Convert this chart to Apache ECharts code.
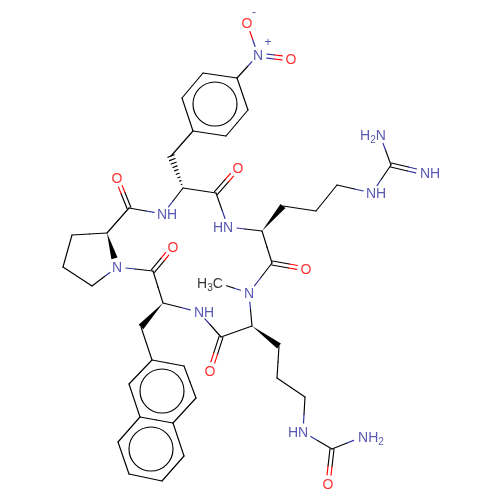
<!DOCTYPE html>
<html><head><meta charset="utf-8">
<style>html,body{margin:0;padding:0;background:#fff}#c{width:500px;height:500px}</style>
<script src="https://cdn.jsdelivr.net/npm/echarts@6/dist/echarts.min.js"></script>
</head><body><div id="c"></div>
<script>
const atomX=[258,247,291,237,203,182,193,226,248,171,183,216,238,163,129,117,228,262,283,316,337,372,391,425,380,272,306,249,218,252,221,210,279,277,305,303,332,362,328,199,163,153,173,117,107,72,63,92,141,152,184,196,173,140,129,184,162,129,118];
const atomY=[55,23,59,78,73,98,131,136,110,156,188,193,168,214,208,178,227,231,206,211,185,193,165,173,135,263,269,293,283,326,337,371,346,378,397,432,449,437,484,312,303,271,247,267,233,235,267,286,327,360,366,398,423,417,384,456,481,474,442];
const atomKind=['N','O','O','C','C','C','C','C','C','C','C','C','O','N','C','O','N','C','C','C','C','N','C','N','N','C','O','N','M','C','C','O','C','C','C','N','C','N','O','N','C','C','O','N','C','C','C','C','C','C','C','C','C','C','C','C','C','C','C'];
const singleBonds=[[0,1],[0,3],[3,4],[4,5],[5,6],[6,7],[7,8],[8,3],[6,9],[10,11],[10,13],[13,14],[14,44],[11,16],[16,17],[18,19],[19,20],[20,21],[21,22],[22,24],[17,25],[25,27],[27,28],[27,29],[29,30],[30,39],[39,40],[40,41],[41,43],[43,47],[47,46],[46,45],[45,44],[32,33],[33,34],[34,35],[35,36],[36,37],[48,49],[49,50],[50,51],[51,52],[52,53],[53,54],[54,49],[52,55],[55,56],[56,57],[57,58],[58,53]];
const doubleBonds=[[0,2],[11,12],[14,15],[22,23],[25,26],[30,31],[36,38],[41,42]];
const wedgeBonds=[[44,43],[17,18],[40,48],[29,32]];
const hashBonds=[[10,9]];
const ringX=[215,162,151];
const ringY=[104,391,449];
const labelText=['N','O','O','NH','O','O','HN','NH','NH','H{s|2}N','O','N','H{s|3}C','NH','O','HN','NH{s|2}','O','O','N'];
const labelX=[258,247,291,167,117,238,223,376,430,373,306,249,210,204,210,298,371,328,173,117];
const labelY=[56,24,60,215,179,169,228,194,174,136,270,294,284,313,372,433,438,485,248,268];
const labelKind=['N','O','O','N','O','O','N','N','N','N','O','N','C','N','O','N','N','O','O','N'];
const chargeText=['-','+'];
const chargeX=[254,268];
const chargeY=[13,43];
const chargeKind=['N','N'];

const COL={N:'#2f2f9f',O:'#ff0000',C:'#000000',M:'#000000'};
const TRIM={N:9,O:9,C:0,M:9};
const LW=1.15, DOUBLE=2.0;
function ends(a,b,api){
  const p=api.coord([atomX[a],atomY[a]]),q=api.coord([atomX[b],atomY[b]]);
  const dx=q[0]-p[0],dy=q[1]-p[1],L=Math.hypot(dx,dy),ux=dx/L,uy=dy/L;
  const ta=TRIM[atomKind[a]],tb=TRIM[atomKind[b]];
  return {p,q,ux,uy,a:[p[0]+ux*ta,p[1]+uy*ta],b:[q[0]-ux*tb,q[1]-uy*tb],m:[(p[0]+q[0])/2,(p[1]+q[1])/2]};
}
function seg(A,B,c){return {type:'line',shape:{x1:A[0],y1:A[1],x2:B[0],y2:B[1]},style:{stroke:c,lineWidth:LW,lineCap:'round',fill:null}};}
function coloured(e,a,b,ox,oy){
  const A=[e.a[0]+ox,e.a[1]+oy],B=[e.b[0]+ox,e.b[1]+oy],M=[e.m[0]+ox,e.m[1]+oy];
  return [seg(A,M,COL[atomKind[a]]),seg(M,B,COL[atomKind[b]])];
}
const bondRender=(gap)=>(params,api)=>{
  const a=api.value(0),b=api.value(1),e=ends(a,b,api);
  let ch=[];
  if(gap===0) ch=coloured(e,a,b,0,0);
  else{const nx=-e.uy*gap,ny=e.ux*gap;
    ch=coloured(e,a,b,nx,ny).concat(coloured(e,a,b,-nx,-ny));}
  return {type:'group',children:ch};
};
const wedgeRender=(params,api)=>{
  const a=api.value(0),b=api.value(1),e=ends(a,b,api),w=3.2,nx=-e.uy*w,ny=e.ux*w;
  return {type:'polygon',shape:{points:[e.a,[e.b[0]+nx,e.b[1]+ny],[e.b[0]-nx,e.b[1]-ny]]},style:{fill:'#000'}};
};
const hashRender=(params,api)=>{
  const a=api.value(0),b=api.value(1),e=ends(a,b,api),n=9,ch=[];
  const L=Math.hypot(e.b[0]-e.a[0],e.b[1]-e.a[1]);
  for(let i=1;i<=n;i++){const t=i/n,w=3.4*t,cx=e.a[0]+e.ux*L*t,cy=e.a[1]+e.uy*L*t,nx=-e.uy*w,ny=e.ux*w;
    ch.push(seg([cx+nx,cy+ny],[cx-nx,cy-ny],'#000'));}
  return {type:'group',children:ch};
};
const ringRender=(params,api)=>{
  const c=api.coord([api.value(0),api.value(1)]);
  return {type:'circle',shape:{cx:c[0],cy:c[1],r:22},style:{stroke:'#000',lineWidth:LW,fill:null}};
};
function textSeries(xs,ys,txt,kind,size){
  return {type:'scatter',symbolSize:0,silent:true,z:5,
    data:xs.map((x,i)=>({value:[x,ys[i]],
      label:{show:true,position:'inside',align:'center',verticalAlign:'middle',formatter:txt[i],
        color:COL[kind[i]],fontFamily:'Liberation Sans',fontSize:size,
        rich:{s:{fontFamily:'Liberation Sans',fontSize:10,color:COL[kind[i]],padding:[8,0,0,0]}}}}))};
}
const custom=(data,fn)=>({type:'custom',coordinateSystem:'cartesian2d',renderItem:fn,data,silent:true,clip:false,encode:{x:0,y:1}});
const chart=echarts.init(document.getElementById('c'),null,{renderer:'canvas'});
chart.setOption({animation:false,backgroundColor:'#fff',
  grid:{left:0,right:0,top:0,bottom:0},
  xAxis:{type:'value',min:0,max:500,show:false},
  yAxis:{type:'value',min:0,max:500,inverse:true,show:false},
  series:[
    custom(singleBonds,bondRender(0)),
    custom(doubleBonds,bondRender(DOUBLE)),
    custom(wedgeBonds,wedgeRender),
    custom(hashBonds,hashRender),
    custom(ringX.map((x,i)=>[x,ringY[i]]),ringRender),
    textSeries(labelX,labelY,labelText,labelKind,14),
    textSeries(chargeX,chargeY,chargeText,chargeKind,12)
  ]});
</script></body></html>
